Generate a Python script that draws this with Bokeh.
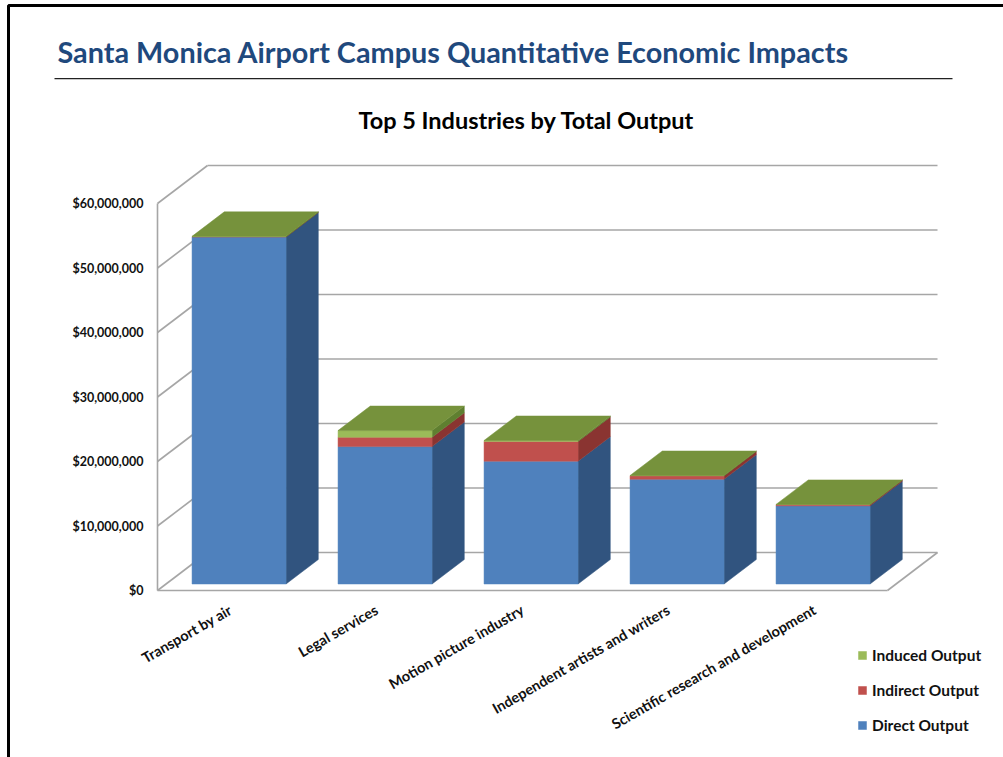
import math
from bokeh.plotting import figure
from bokeh.embed import file_html
from bokeh.resources import INLINE
from bokeh.models import (Range1d, LinearAxis, FixedTicker, Label, Legend, LegendItem,
                          BoxAnnotation)

headline = "Santa Monica Airport Campus Quantitative Economic Impacts"
chart_title = "Top 5 Industries by Total Output"
categories = ["Transport by air", "Legal services", "Motion picture industry",
              "Independent artists and writers", "Scientific research and development"]
direct = [53800000, 21300000, 19050000, 16250000, 12120000]
indirect = [50000, 1450000, 3050000, 520000, 200000]
induced = [50000, 1040000, 150000, 50000, 20000]
series_names = ["Direct Output", "Indirect Output", "Induced Output"]
front_colors = ["#4f81bd", "#c0504d", "#9bbb59"]
side_colors = ["#31547f", "#8a3431", "#5f7f30"]
top_color = "#76923c"
y_ticks = [0, 10000000, 20000000, 30000000, 40000000, 50000000, 60000000]
y_labels = ["$0", "$10,000,000", "$20,000,000", "$30,000,000", "$40,000,000", "$50,000,000", "$60,000,000"]

W, H = 1003, 757
X0, Y0 = 157, 590                            # canvas position of the axes' origin
PX_PER_CAT = 146.0
PX_PER_DOLLAR = 6.45 / 1e6
DEPTH_X, DEPTH_Y = 50.0, 38.0                # wall depth in px
BAR_W = 94.0 / 146.0
Z0, Z1 = 6.5 / 38.0, 31.0 / 38.0             # bar's extent along the depth
GRID = "#a6a6a6"
FONT = "Lato"

p = figure(width=W, height=H, output_backend="svg", toolbar_location=None,
           x_range=Range1d(-X0 / PX_PER_CAT, (W - X0) / PX_PER_CAT),
           y_range=Range1d(-(H - Y0) / PX_PER_DOLLAR, Y0 / PX_PER_DOLLAR),
           x_axis_type=None, y_axis_type=None,
           min_border=0,
           margin=(0, 0, 0, 0),
           background_fill_color="white", border_fill_color="white",
           outline_line_color=None)
p.grid.visible = False


def proj(u, v, z):
    return u + z * DEPTH_X / PX_PER_CAT, v + z * DEPTH_Y / PX_PER_DOLLAR


def seg(a, b):
    xa, ya = proj(*a)
    xb, yb = proj(*b)
    p.line([xa, xb], [ya, yb], line_color=GRID, line_width=1.6)


n = len(categories)
for t in y_ticks:
    seg((0, t, 0), (0, t, 1))
    seg((0, t, 1), (n, t, 1))
seg((n, 0, 0), (n, 0, 1))

legend_refs = {}
for i in range(n):
    u0 = i + (1 - BAR_W) / 2
    u1 = u0 + BAR_W
    base = 0
    for name, vals, fc, sc in zip(series_names, [direct, indirect, induced], front_colors, side_colors):
        top = base + vals[i]
        cs = [proj(u1, base, Z0), proj(u1, base, Z1), proj(u1, top, Z1), proj(u1, top, Z0)]
        p.patch([c[0] for c in cs], [c[1] for c in cs], fill_color=sc, line_color=sc, line_width=0.5)
        cs = [proj(u0, base, Z0), proj(u1, base, Z0), proj(u1, top, Z0), proj(u0, top, Z0)]
        r = p.patch([c[0] for c in cs], [c[1] for c in cs], fill_color=fc, line_color=fc, line_width=0.5)
        legend_refs.setdefault(name, r)
        base = top
    cs = [proj(u0, base, Z0), proj(u1, base, Z0), proj(u1, base, Z1), proj(u0, base, Z1)]
    p.patch([c[0] for c in cs], [c[1] for c in cs], fill_color=top_color, line_color=top_color, line_width=0.5)

yax = LinearAxis(ticker=FixedTicker(ticks=y_ticks),
                 major_label_overrides=dict(zip(y_ticks, y_labels)),
                 bounds=(0, y_ticks[-1]), fixed_location=0,
                 major_tick_line_color=None, minor_tick_line_color=None,
                 major_label_standoff=8,
                 axis_line_color=GRID, axis_line_width=1.6,
                 major_label_text_font=FONT, major_label_text_font_style="bold",
                 major_label_text_font_size="12.5px", major_label_text_color="#111111")
p.add_layout(yax, "left")

centers = [i + 0.5 for i in range(n)]
xax = LinearAxis(ticker=FixedTicker(ticks=centers),
                 major_label_overrides=dict(zip(centers, categories)),
                 bounds=(0, n), fixed_location=0,
                 major_tick_line_color=None, minor_tick_line_color=None,
                 major_label_standoff=12,
                 major_label_orientation=math.radians(30),
                 axis_line_color=GRID, axis_line_width=1.6,
                 major_label_text_font=FONT, major_label_text_font_style="bold",
                 major_label_text_font_size="14.5px", major_label_text_color="#111111")
p.add_layout(xax, "below")

p.add_layout(Label(x=57, y=51, x_units="canvas", y_units="canvas", text=headline,
                   text_font=FONT, text_font_style="bold", text_font_size="28.8px",
                   text_color="#1f497d", text_baseline="middle", text_align="left"))
p.add_layout(Label(x=526, y=119, x_units="canvas", y_units="canvas", text=chart_title,
                   text_font=FONT, text_font_style="bold", text_font_size="23.5px",
                   text_color="#000000", text_baseline="middle", text_align="center"))

p.add_layout(BoxAnnotation(left=54, right=952, top=77.5, bottom=78.8,
                           left_units="canvas", right_units="canvas",
                           top_units="canvas", bottom_units="canvas",
                           fill_color="#222222", fill_alpha=1, line_color=None))
p.add_layout(BoxAnnotation(left=8, right=1015, top=5, bottom=775,
                           left_units="canvas", right_units="canvas",
                           top_units="canvas", bottom_units="canvas",
                           fill_alpha=0, line_color="black", line_alpha=1, line_width=3))

legend = Legend(items=[LegendItem(label=nm, renderers=[legend_refs[nm]]) for nm in reversed(series_names)],
                location=(857, 23), orientation="vertical",
                background_fill_alpha=0, border_line_color=None,
                label_text_font=FONT, label_text_font_style="bold",
                label_text_font_size="15.5px", label_text_color="#111111",
                glyph_width=10, glyph_height=10, spacing=17, margin=0, padding=4,
                label_standoff=5)
p.add_layout(legend, "center")

open("out.html", "w").write(file_html(p, INLINE))
